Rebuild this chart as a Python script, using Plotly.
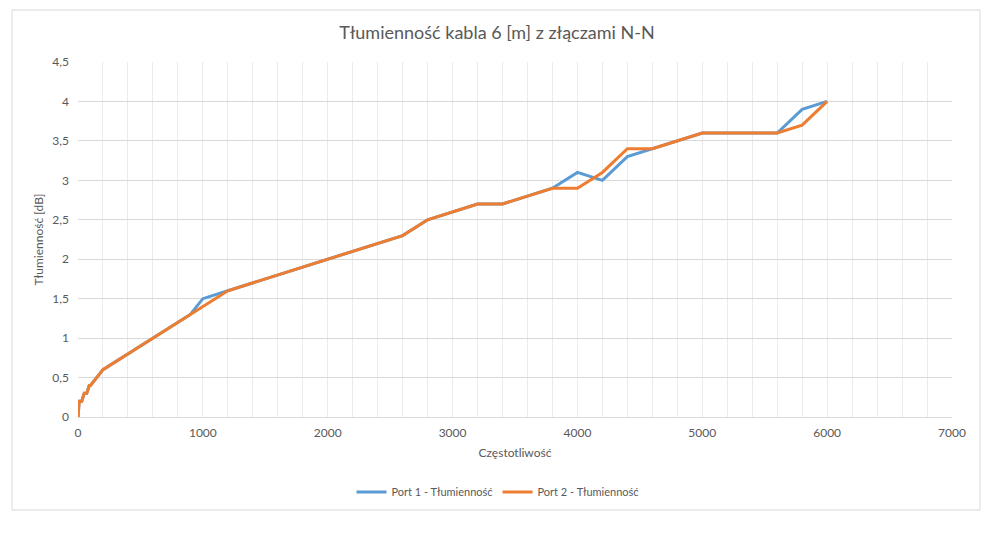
import plotly.graph_objects as go

freq_p1 = [0, 10, 30, 50, 70, 90, 100, 200, 900, 1000, 1200, 2600, 2800, 3200, 3400, 3800, 4000, 4200, 4400, 4600, 5000, 5600, 5800, 6000]
att_p1 = [0, 0.2, 0.2, 0.3, 0.3, 0.4, 0.4, 0.6, 1.3, 1.5, 1.6, 2.3, 2.5, 2.7, 2.7, 2.9, 3.1, 3.0, 3.3, 3.4, 3.6, 3.6, 3.9, 4.0]

freq_p2 = [0, 10, 30, 50, 70, 90, 100, 200, 900, 1000, 1200, 2600, 2800, 3200, 3400, 3800, 4000, 4200, 4400, 4600, 5000, 5600, 5800, 6000]
att_p2 = [0, 0.2, 0.2, 0.3, 0.3, 0.4, 0.4, 0.6, 1.3, 1.4, 1.6, 2.3, 2.5, 2.7, 2.7, 2.9, 2.9, 3.1, 3.4, 3.4, 3.6, 3.6, 3.7, 4.0]

FONT = "Lato"
GRAY = "#595959"

fig = go.Figure()
fig.add_trace(go.Scatter(x=freq_p1, y=att_p1, mode="lines", name="Port 1 - Tłumienność",
                         line=dict(color="#5B9BD5", width=3)))
fig.add_trace(go.Scatter(x=freq_p2, y=att_p2, mode="lines", name="Port 2 - Tłumienność",
                         line=dict(color="#ED7D31", width=3)))

# page has an 8px body margin; figure coordinates are screen minus 8
OFF = 8
W, H = 984, 519
L, R, T, B = 70, 40, 54, 110
pw, ph = W - L - R, H - T - B

def px2x(p):
    return (p - OFF - L) / pw

def px2y(p):
    return (H - B - (p - OFF)) / ph

fig.update_layout(
    width=W, height=H,
    margin=dict(l=L, r=R, t=T, b=B),
    paper_bgcolor="white", plot_bgcolor="white",
    separators=", ",
    font=dict(family=FONT, color=GRAY, size=12),
    title=dict(text="Tłumienność kabla 6 [m] z złączami N-N", x=(497 - OFF) / W, xanchor="center",
               y=1 - (33 - OFF) / H, yanchor="middle", font=dict(size=18, color=GRAY, family=FONT)),
    showlegend=True,
    legend=dict(orientation="h", x=px2x(498), xanchor="center", y=px2y(492), yanchor="middle",
                font=dict(size=11, color=GRAY), itemwidth=30, traceorder="normal"),
    xaxis=dict(range=[0, 7000], dtick=1000, tick0=0, showgrid=True, gridcolor="#EBEBEB",
               gridwidth=1, zeroline=False, showline=True, linecolor="#D9D9D9", ticks="",
               ticklabelstandoff=5,
               minor=dict(dtick=200, showgrid=True, gridcolor="#EBEBEB", gridwidth=1),
               title=dict(text="Częstotliwość", standoff=9, font=dict(size=12, color=GRAY)),
               tickfont=dict(size=12, color=GRAY), fixedrange=True),
    yaxis=dict(range=[0, 4.5], dtick=0.5, tick0=0, showgrid=True, gridcolor="#D9D9D9",
               gridwidth=1, zeroline=False, showline=False, ticks="",
               tickformat=".1~f", ticklabelstandoff=8,
               title=dict(text="Tłumienność [dB]", standoff=6, font=dict(size=12, color=GRAY)),
               tickfont=dict(size=12, color=GRAY), fixedrange=True),
    shapes=[dict(type="rect", xref="paper", yref="paper",
                 x0=px2x(12), x1=px2x(980), y0=px2y(510), y1=px2y(10),
                 line=dict(color="#D9D9D9", width=1), fillcolor="rgba(0,0,0,0)", layer="below")],
)

fig.write_html("out.html")
